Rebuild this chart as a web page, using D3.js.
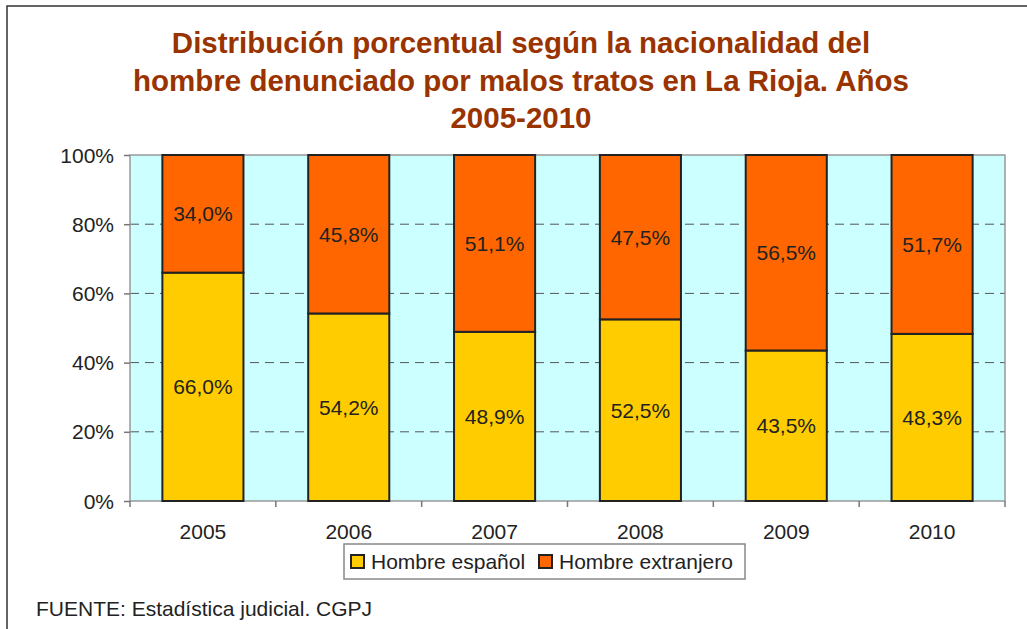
<!DOCTYPE html>
<html><head><meta charset="utf-8">
<script src="https://cdn.jsdelivr.net/npm/d3@7"></script>
<style>body{margin:0;background:#fff}svg{display:block;font-family:"Liberation Sans",Arial,sans-serif}</style>
</head><body><svg id="c" width="1027" height="629"></svg>
<script>
const years = ["2005","2006","2007","2008","2009","2010"];
const espanol = [66.0, 54.2, 48.9, 52.5, 43.5, 48.3];
const extranjero = [34.0, 45.8, 51.1, 47.5, 56.5, 51.7];
const yTicks = [0, 20, 40, 60, 80, 100];
const seriesNames = ["Hombre español", "Hombre extranjero"];
const seriesColors = ["#FFCC00", "#FF6600"];
const titleLines = ["Distribución porcentual según la nacionalidad del", "hombre denunciado por malos tratos en La Rioja. Años", "2005-2010"];
const source = "FUENTE: Estadística judicial. CGPJ";

const svg = d3.select("#c");
svg.append("rect").attr("x",7).attr("y",6).attr("width",1040).attr("height",660)
  .attr("fill","#fff").attr("stroke","#333").attr("stroke-width",1.5);

const L=130, R=1005, T=155, B=501;
const x = d3.scaleBand().domain(years).range([L,R]).paddingInner(0.444).paddingOuter(0.222);
const y = d3.scaleLinear().domain([0,100]).range([B,T]);

svg.append("rect").attr("x",L).attr("y",T).attr("width",R-L).attr("height",B-T).attr("fill","#CCFFFF");
svg.append("g").selectAll("line").data(yTicks.filter(d=>d>0&&d<100)).join("line")
  .attr("x1",L).attr("x2",R).attr("y1",d=>y(d)).attr("y2",d=>y(d))
  .attr("stroke","#555").attr("stroke-width",1).attr("stroke-dasharray","9,6");

svg.append("rect").attr("x",L).attr("y",T).attr("width",R-L).attr("height",B-T)
  .attr("fill","none").attr("stroke","#999").attr("stroke-width",1.5);

const rows = years.map((yr,i)=>({yr, a:espanol[i], b:extranjero[i]}));
const stack = d3.stack().keys(["a","b"])(rows);
stack.forEach((s,si)=>{
  const g = svg.append("g");
  g.selectAll("rect").data(s).join("rect")
    .attr("x",d=>x(d.data.yr)).attr("width",x.bandwidth())
    .attr("y",d=>y(d[1])).attr("height",d=>y(d[0])-y(d[1]))
    .attr("fill",seriesColors[si]).attr("stroke","#222").attr("stroke-width",2);
  g.selectAll("text").data(s).join("text")
    .attr("x",d=>x(d.data.yr)+x.bandwidth()/2).attr("y",d=>(y(d[0])+y(d[1]))/2+7.5)
    .attr("text-anchor","middle").attr("font-size",21).attr("fill","#222")
    .text(d=>(d[1]-d[0]).toFixed(1).replace(".",",")+"%");
});

// y axis
const ya = svg.append("g").attr("transform",`translate(${L},0)`)
  .call(d3.axisLeft(y).tickValues(yTicks).tickSize(6).tickFormat(d=>d+"%"));
ya.select(".domain").remove();
ya.selectAll("line").attr("stroke","#777").attr("stroke-width",1.5);
ya.selectAll("text").attr("font-size",21).attr("fill","#222").attr("font-family","Liberation Sans, Arial").attr("dx",-7).attr("dy","0.34em");

// x axis ticks at category boundaries
const bounds = d3.range(years.length+1).map(i=>L+i*(R-L)/years.length);
svg.append("g").selectAll("line").data(bounds).join("line")
  .attr("x1",d=>d).attr("x2",d=>d).attr("y1",B).attr("y2",B+6).attr("stroke","#777").attr("stroke-width",1.5);
svg.append("g").selectAll("text").data(years).join("text")
  .attr("x",d=>x(d)+x.bandwidth()/2).attr("y",539).attr("text-anchor","middle")
  .attr("font-size",21).attr("fill","#222").text(d=>d);

// title
svg.append("g").selectAll("text").data(titleLines).join("text")
  .attr("x",521).attr("y",(d,i)=>53+i*37.5).attr("text-anchor","middle")
  .attr("font-size",29.5).attr("font-weight","bold").attr("fill","#993300").text(d=>d);

// legend
svg.append("rect").attr("x",344).attr("y",544).attr("width",401).attr("height",35)
  .attr("fill","#fff").attr("stroke","#888").attr("stroke-width",1.5);
const lx = [351, 539];
seriesNames.forEach((n,i)=>{
  svg.append("rect").attr("x",lx[i]).attr("y",555).attr("width",13).attr("height",13)
    .attr("fill",seriesColors[i]).attr("stroke","#222").attr("stroke-width",2);
  svg.append("text").attr("x",lx[i]+20).attr("y",569).attr("font-size",21).attr("fill","#222").text(n);
});

svg.append("text").attr("x",36).attr("y",616).attr("font-size",21).attr("fill","#222").text(source);
</script></body></html>
